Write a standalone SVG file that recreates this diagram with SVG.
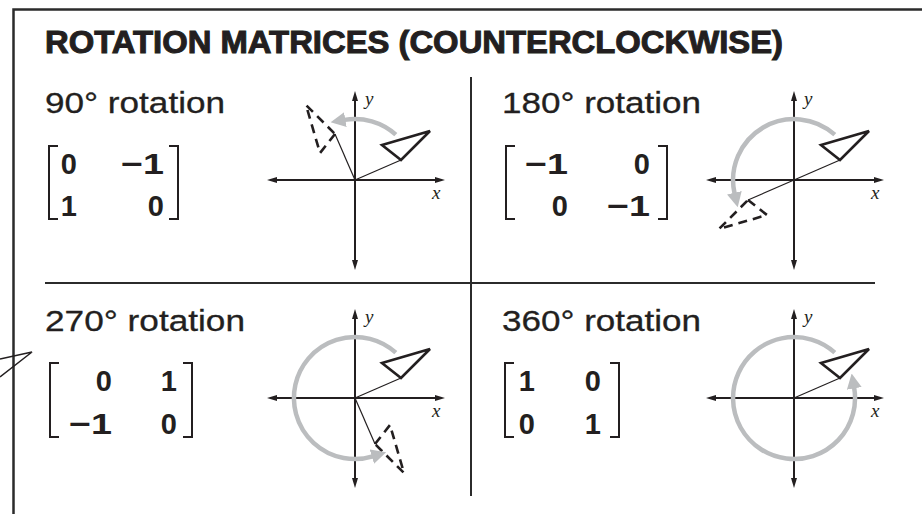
<svg xmlns="http://www.w3.org/2000/svg" width="922" height="514" viewBox="0 0 922 514">
<defs>
<style>
.frame{fill:none;stroke:#2b2b2b;stroke-width:2.5}
.div{fill:none;stroke:#2b2b2b;stroke-width:2}
.title{font-family:"Liberation Sans",Arial,sans-serif;font-weight:bold;font-size:31px;fill:#231f20;stroke:#231f20;stroke-width:1}
.sub{font-family:"Liberation Sans",Arial,sans-serif;font-size:29px;fill:#231f20;stroke:#231f20;stroke-width:0.3}
.num{font-family:"Liberation Sans",Arial,sans-serif;font-weight:bold;font-size:29px;fill:#231f20;text-anchor:end}
.brk{fill:none;stroke:#231f20;stroke-width:2}
.axis{fill:none;stroke:#231f20;stroke-width:2;marker-start:url(#ah);marker-end:url(#ah)}
.lab{font-family:"Liberation Serif","Times New Roman",serif;font-style:italic;font-size:19px;fill:#231f20}
.tri{fill:none;stroke:#231f20;stroke-width:2.6;stroke-linejoin:miter}
.dash{fill:none;stroke:#231f20;stroke-width:2.6;stroke-dasharray:9 6}
.thin{fill:none;stroke:#231f20;stroke-width:1.2}
.arc{fill:none;stroke:#bbbdbf;stroke-width:4.5;marker-end:url(#gh)}
</style>
<marker id="ah" viewBox="0 0 10 6" refX="2" refY="3" markerWidth="10" markerHeight="6" markerUnits="userSpaceOnUse" orient="auto-start-reverse">
<path d="M0,0 L10,3 L0,6 z" fill="#231f20"/>
</marker>
<marker id="gh" viewBox="0 0 15 15" refX="1" refY="7.5" markerWidth="15" markerHeight="15" markerUnits="userSpaceOnUse" orient="auto">
<path d="M0,0 L15,7.5 L0,15 z" fill="#bbbdbf"/>
</marker>
<g id="axes">
<line class="axis" x1="-80" y1="0" x2="82" y2="0"/>
<line class="axis" x1="0" y1="-81" x2="0" y2="82"/>
<text class="lab" x="10" y="-75">y</text>
<text class="lab" x="77" y="19">x</text>
</g>
<g id="orig">
<line class="thin" x1="0" y1="0" x2="46" y2="-20"/>
<polygon class="tri" points="27,-35 75,-49 46,-20"/>
</g>
<g id="img">
<line class="thin" x1="0" y1="0" x2="46" y2="-20"/>
<polygon class="dash" points="46,-20 27,-35 75,-49"/>
</g>
</defs>

<g id="frame">
<path class="frame" d="M13.5,514 V9.5 H922"/>
<polyline fill="none" stroke="#231f20" stroke-width="1.5" points="0,359 32,352 0,377"/>
</g>

<text id="title" class="title" x="45" y="53" textLength="738" lengthAdjust="spacingAndGlyphs">ROTATION MATRICES (COUNTERCLOCKWISE)</text>

<g id="dividers">
<line class="div" x1="471" y1="77" x2="471" y2="496"/>
<line class="div" x1="45" y1="283" x2="875" y2="283"/>
</g>

<g id="q90">
<text class="sub" x="45" y="113" textLength="180" lengthAdjust="spacingAndGlyphs">90° rotation</text>
<path class="brk" d="M58,146 H49 V219 H58"/>
<path class="brk" d="M169,146 H178 V219 H169"/>
<text class="num" x="77" y="174">0</text>
<text class="num" x="164" y="174" textLength="43" lengthAdjust="spacingAndGlyphs">−1</text>
<text class="num" x="77" y="216">1</text>
<text class="num" x="164" y="216">0</text>
<g transform="translate(355,180)">
<use href="#axes"/>
<use href="#orig"/>
<use href="#img" transform="rotate(-90)"/>
<path class="arc" d="M40.8,-45.3 A61,61 0 0 0 -10.6,-60.1"/>
</g>
</g>

<g id="q180">
<text class="sub" x="502" y="113" textLength="199" lengthAdjust="spacingAndGlyphs">180° rotation</text>
<path class="brk" d="M515,146 H506 V219 H515"/>
<path class="brk" d="M658,146 H667 V219 H658"/>
<text class="num" x="568" y="174" textLength="43" lengthAdjust="spacingAndGlyphs">−1</text>
<text class="num" x="650" y="174">0</text>
<text class="num" x="568" y="216">0</text>
<text class="num" x="650" y="216" textLength="43" lengthAdjust="spacingAndGlyphs">−1</text>
<g transform="translate(794,180)">
<use href="#axes"/>
<use href="#orig"/>
<use href="#img" transform="rotate(180)"/>
<path class="arc" d="M40.8,-45.3 A61,61 0 0 0 -59.4,13.7"/>
</g>
</g>

<g id="q270">
<text class="sub" x="45" y="331" textLength="200" lengthAdjust="spacingAndGlyphs">270° rotation</text>
<path class="brk" d="M59,363 H50 V437 H59"/>
<path class="brk" d="M183,363 H192 V437 H183"/>
<text class="num" x="112" y="391">0</text>
<text class="num" x="177" y="391">1</text>
<text class="num" x="112" y="434" textLength="43" lengthAdjust="spacingAndGlyphs">−1</text>
<text class="num" x="177" y="434">0</text>
<g transform="translate(355,398)">
<use href="#axes"/>
<use href="#orig"/>
<use href="#img" transform="rotate(90)"/>
<path class="arc" d="M40.8,-45.3 A61,61 0 1 0 17.8,58.3"/>
</g>
</g>

<g id="q360">
<text class="sub" x="502" y="331" textLength="199" lengthAdjust="spacingAndGlyphs">360° rotation</text>
<path class="brk" d="M514,363 H505 V437 H514"/>
<path class="brk" d="M610,363 H619 V437 H610"/>
<text class="num" x="535" y="391">1</text>
<text class="num" x="601" y="391">0</text>
<text class="num" x="535" y="434">0</text>
<text class="num" x="601" y="434">1</text>
<g transform="translate(794,398)">
<use href="#axes"/>
<use href="#orig"/>
<path class="arc" d="M40.8,-45.3 A61,61 0 1 0 60.1,-10.6"/>
</g>
</g>
</svg>
